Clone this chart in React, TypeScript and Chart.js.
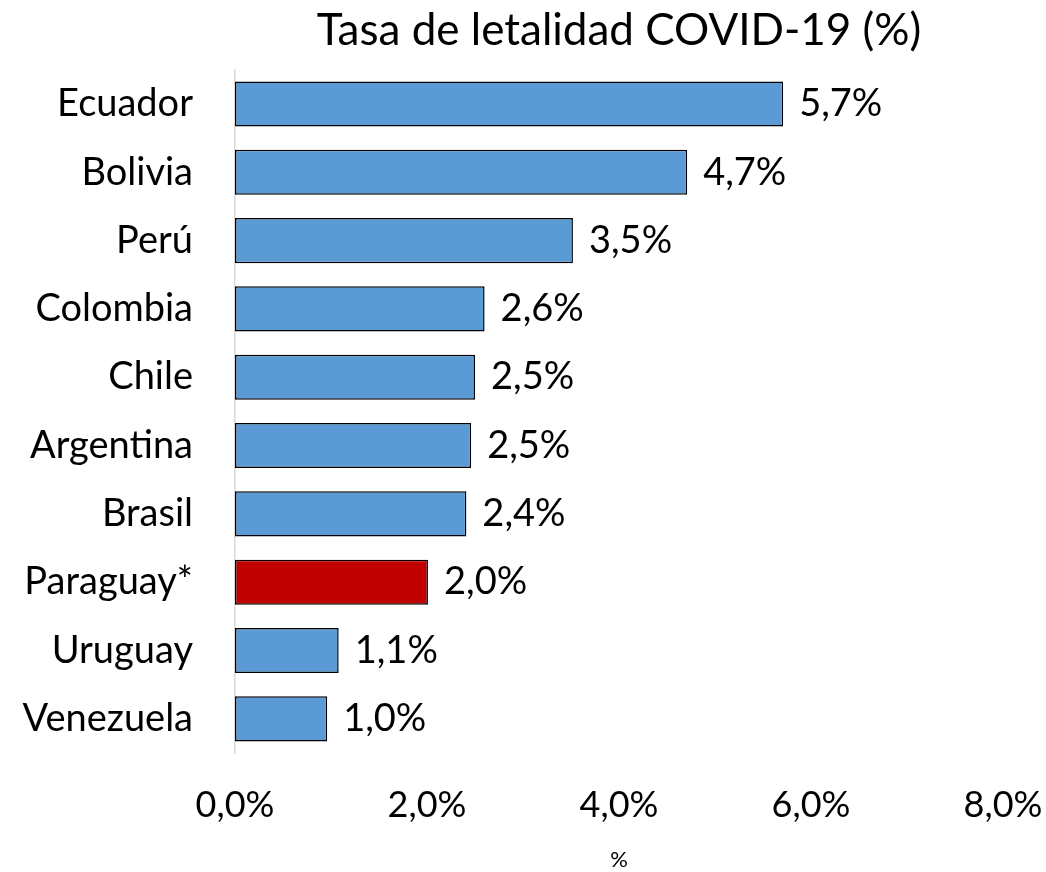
import React, { useEffect, useRef } from "react";
import { Chart, registerables } from "chart.js";

Chart.register(...registerables);

const categories = ["Ecuador", "Bolivia", "Perú", "Colombia", "Chile", "Argentina", "Brasil", "Paraguay*", "Uruguay", "Venezuela"];
const values = [5.71, 4.71, 3.52, 2.6, 2.5, 2.46, 2.41, 2.01, 1.08, 0.96];
const barColors = ["#5B9BD5", "#5B9BD5", "#5B9BD5", "#5B9BD5", "#5B9BD5", "#5B9BD5", "#5B9BD5", "#C00000", "#5B9BD5", "#5B9BD5"];
const titleText = "Tasa de letalidad COVID-19 (%)";
const xAxisTitle = "%";
const xMin = 0;
const xMax = 8;
const xStep = 2;

const FONT = 'Lato, "Open Sans", sans-serif';
const W = 1046;
const H = 872;

const fmt = (v: number) => v.toFixed(1).replace(".", ",") + "%";

const valueLabels = {
  id: "valueLabels",
  afterDatasetsDraw(chart: any) {
    const ctx = chart.ctx;
    const meta = chart.getDatasetMeta(0);
    ctx.save();
    ctx.font = `38px ${FONT}`;
    ctx.fillStyle = "#000";
    ctx.textAlign = "left";
    ctx.textBaseline = "middle";
    meta.data.forEach((el: any, i: number) => {
      ctx.fillText(fmt(values[i]), el.x + 16, el.y);
    });
    ctx.restore();
  },
};

export default function App() {
  const ref = useRef<HTMLCanvasElement>(null);
  useEffect(() => {
    if (!ref.current) return;
    const chart = new Chart(ref.current, {
      type: "bar",
      data: {
        labels: categories,
        datasets: [
          {
            data: values,
            backgroundColor: barColors,
            borderColor: "#000000",
            borderWidth: 1.5,
            borderSkipped: false,
            categoryPercentage: 1,
            barPercentage: 0.66,
          },
        ],
      },
      options: {
        indexAxis: "y",
        animation: false,
        responsive: false,
        devicePixelRatio: 1,
        layout: { padding: 0 },
        plugins: {
          legend: { display: false },
          tooltip: { enabled: false },
          title: {
            display: true,
            text: titleText,
            fullSize: false,
            color: "#000",
            font: { family: FONT, size: 44, weight: "normal", lineHeight: 1.2 },
            padding: { top: 4, bottom: 13 },
          },
        },
        scales: {
          x: {
            min: xMin,
            max: xMax,
            grid: { display: false, drawTicks: false },
            border: { display: false },
            ticks: {
              stepSize: xStep,
              padding: 31,
              color: "#000",
              maxRotation: 0,
              font: { family: FONT, size: 36 },
              callback: (v: any) => fmt(Number(v)),
            },
            title: {
              display: true,
              text: xAxisTitle,
              color: "#000",
              font: { family: FONT, size: 22, lineHeight: 1 },
              padding: { top: 0, bottom: 1 },
            },
            afterFit: (scale: any) => {
              scale.height = 119;
              scale.paddingRight = 43;
              scale.paddingLeft = 0;
            },
          },
          y: {
            grid: { display: false, drawTicks: false },
            border: { display: true, color: "#D9D9D9", width: 1.5 },
            ticks: {
              padding: 42,
              color: "#000",
              font: { family: FONT, size: 38 },
            },
            afterFit: (scale: any) => {
              scale.width = 235;
            },
          },
        },
      },
      plugins: [valueLabels],
    });
    return () => chart.destroy();
  }, []);
  return (
    <div style={{ position: "fixed", left: 0, top: 0, width: W, height: H, background: "#fff" }}>
      <canvas ref={ref} width={W} height={H} style={{ width: W, height: H }} />
    </div>
  );
}
